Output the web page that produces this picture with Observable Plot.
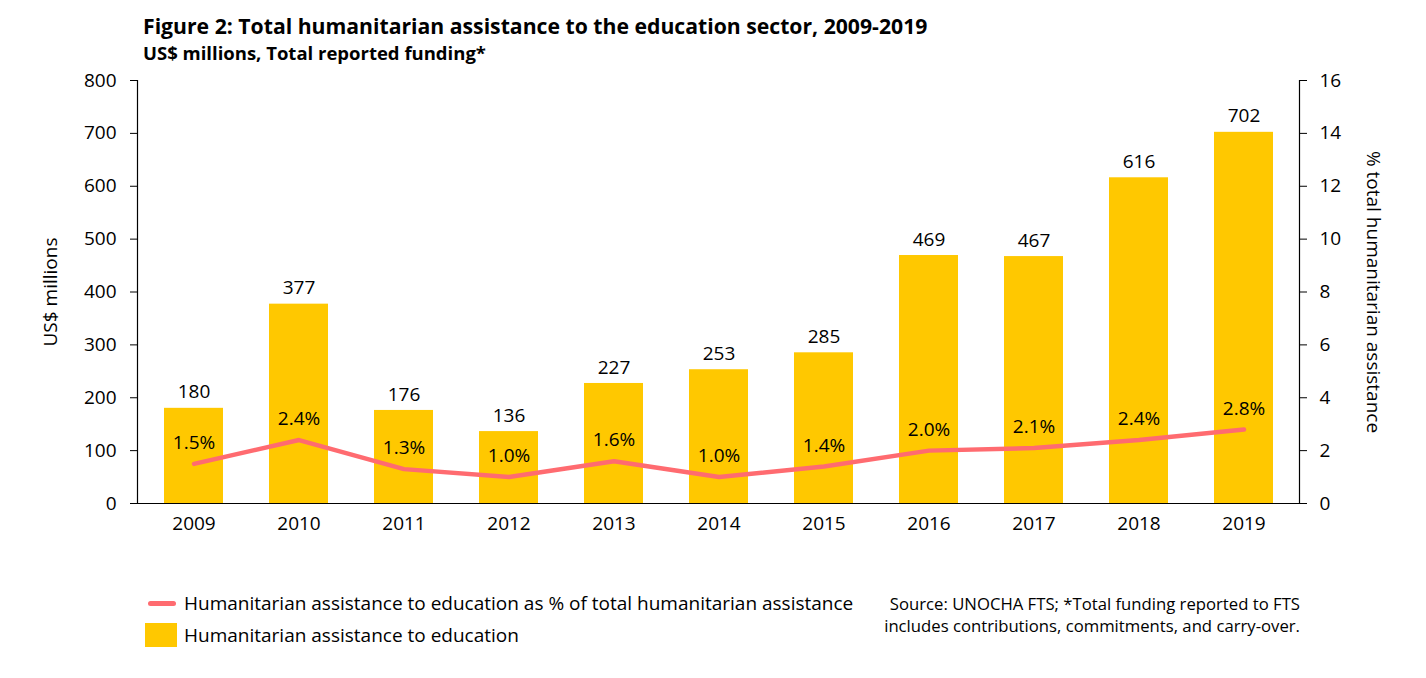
<!DOCTYPE html>
<html><head><meta charset="utf-8">
<script src="https://cdn.jsdelivr.net/npm/d3@7"></script>
<script src="https://cdn.jsdelivr.net/npm/@observablehq/plot@0.6"></script>
<style>
body{margin:0;background:#fff;font-family:"Open Sans",Lato,sans-serif;color:#000}
#wrap{position:relative;width:1426px;height:678px;overflow:hidden;background:#fff}
.abs{position:absolute;white-space:nowrap}
</style></head><body>
<div id="wrap">
  <div class="abs" style="left:143px;top:13px;font-size:21.2px;font-weight:700;line-height:26px">Figure 2: Total humanitarian assistance to the education sector, 2009-2019</div>
  <div class="abs" style="left:143px;top:41px;font-size:18.5px;font-weight:700;line-height:24px">US$ millions, Total reported funding*</div>
  <div id="chart" class="abs" style="left:0;top:70px"></div>
  <div class="abs" style="left:148px;top:601px;width:28px;height:5px;border-radius:3px;background:#FF6B70"></div>
  <div class="abs" id="leg1" style="left:184px;top:590px;font-size:19px;line-height:26px"></div>
  <div class="abs" style="left:145px;top:623px;width:32px;height:24px;background:#FFC800"></div>
  <div class="abs" id="leg2" style="left:184px;top:622px;font-size:19px;line-height:26px"></div>
  <div class="abs" style="right:126px;top:593px;font-size:16.7px;line-height:22px;text-align:right">Source: UNOCHA FTS; *Total funding reported to FTS<br>includes contributions, commitments, and carry-over.</div>
</div>
<script>
const years = ["2009","2010","2011","2012","2013","2014","2015","2016","2017","2018","2019"];
const funding = [180,377,176,136,227,253,285,469,467,616,702];
const sharePct = [1.5,2.4,1.3,1.0,1.6,1.0,1.4,2.0,2.1,2.4,2.8];
const leftTicks = [0,100,200,300,400,500,600,700,800];
const rightTicks = [0,2,4,6,8,10,12,14,16];
const seriesNames = ["Humanitarian assistance to education as % of total humanitarian assistance","Humanitarian assistance to education"];
const axisTitles = ["US$ millions","% total humanitarian assistance"];

document.getElementById("leg1").textContent = seriesNames[0];
document.getElementById("leg2").textContent = seriesNames[1];

const ratio = 800 / 16;
const data = years.map((year, i) => ({year, funding: funding[i], pct: sharePct[i]}));
const fs = 19;

const chart = Plot.plot({
  width: 1426, height: 473,
  marginLeft: 137, marginRight: 127, marginTop: 10, marginBottom: 40,
  style: {fontFamily: "'Open Sans', Lato, sans-serif", fontSize: fs + "px", color: "#000", background: "transparent", overflow: "visible"},
  x: {domain: years, paddingInner: 0.44, paddingOuter: 0.22, axis: null},
  y: {domain: [0, 800], axis: null},
  marks: [
    Plot.barY(data, {x: "year", y: "funding", fill: "#FFC800"}),
    Plot.line(data, {x: "year", y: d => d.pct * ratio, stroke: "#FF6B70", strokeWidth: 4.5, strokeLinecap: "round", strokeLinejoin: "round"}),
    Plot.text(data, {x: "year", y: "funding", text: d => String(d.funding), dy: -16, fontSize: fs, fill: "#000"}),
    Plot.text(data, {x: "year", y: d => d.pct * ratio, text: d => d.pct.toFixed(1) + "%", dy: -21, fontSize: fs, fill: "#000"}),
    Plot.ruleY([0], {stroke: "#000", strokeWidth: 1.2}),
    Plot.frame({anchor: "left", stroke: "#000", strokeWidth: 1.2}),
    Plot.frame({anchor: "right", stroke: "#000", strokeWidth: 1.2}),
    Plot.axisX({tickSize: 0, tickPadding: 13, fontSize: fs, label: null}),
    Plot.axisY(leftTicks, {anchor: "left", tickSize: 7, tickPadding: 14, fontSize: fs, label: null}),
    Plot.axisY(rightTicks.map(t => t * ratio), {anchor: "right", tickSize: 7, tickPadding: 13, fontSize: fs, tickFormat: d => String(d / ratio), label: null}),
    Plot.text([axisTitles[0]], {frameAnchor: "left", textAnchor: "middle", rotate: -90, dx: -87, fontSize: fs, fill: "#000"}),
    Plot.text([axisTitles[1]], {frameAnchor: "right", textAnchor: "middle", rotate: 90, dx: 74, fontSize: fs, fill: "#000"})
  ]
});
document.getElementById("chart").appendChild(chart);
</script>
</body></html>
